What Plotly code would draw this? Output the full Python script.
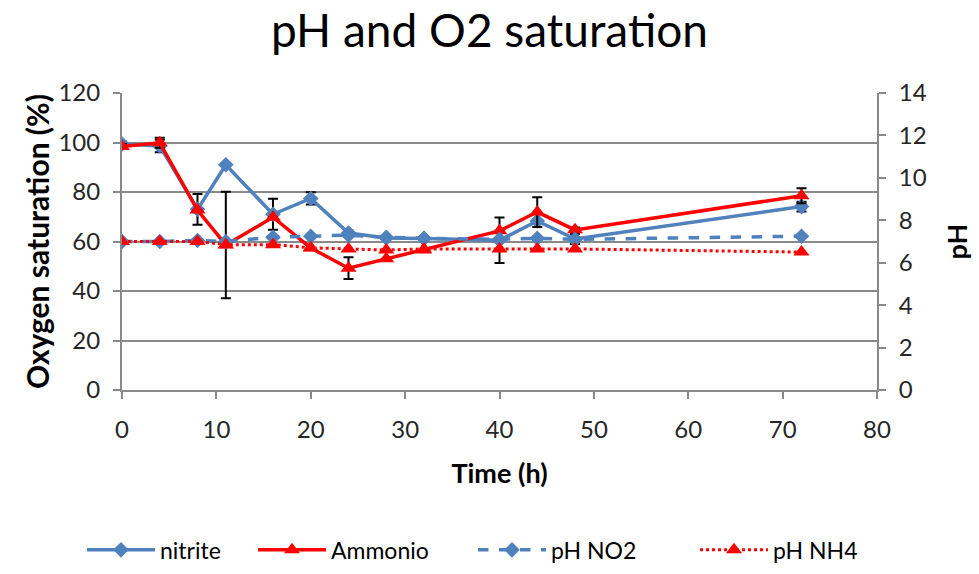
import plotly.graph_objects as go

time_h = [0, 4, 8, 11, 16, 20, 24, 28, 32, 40, 44, 48, 72]
nitrite = [99.4, 98.6, 73.0, 91.0, 71.0, 77.4, 63.4, 61.4, 61.2, 60.5, 68.3, 61.0, 74.1]
nitrite_err = [1.0, 2.5, 6.2, 0.0, 6.3, 2.5, 1.0, 0.0, 0.0, 9.2, 0.0, 2.0, 2.0]
ammonio = [98.4, 99.9, 72.7, 58.6, 69.8, 57.4, 49.2, 53.0, 56.6, 64.3, 71.9, 64.7, 78.5]
ammonio_err = [1.0, 2.0, 0.0, 21.5, 0.0, 0.0, 4.4, 0.0, 0.0, 0.0, 6.0, 1.0, 3.0]
ph_no2 = [7.0, 7.0, 7.05, 7.0, 7.2, 7.25, 7.3, 7.2, 7.15, 7.1, 7.15, 7.1, 7.25]
ph_nh4 = [7.0, 7.0, 7.0, 6.85, 6.85, 6.7, 6.65, 6.6, 6.65, 6.65, 6.65, 6.65, 6.5]

BLUE = "#4F81BD"
RED = "#FF0000"
GRID = "#898989"
FONT = "Lato"

fig = go.Figure()
fig.add_trace(go.Scatter(
    x=time_h, y=nitrite, name="nitrite", mode="lines+markers", legend="legend",
    line=dict(color=BLUE, width=3.5),
    marker=dict(symbol="diamond", size=12, color=BLUE),
    error_y=dict(type="data", array=nitrite_err, color="black", thickness=2, width=5),
))
fig.add_trace(go.Scatter(
    x=time_h, y=ammonio, name="Ammonio", mode="lines+markers", legend="legend2",
    line=dict(color=RED, width=3.5),
    marker=dict(symbol="triangle-up", size=14, color=RED),
    error_y=dict(type="data", array=ammonio_err, color="black", thickness=2, width=5),
))
fig.add_trace(go.Scatter(
    x=time_h, y=ph_no2, name="pH NO2", mode="lines+markers", yaxis="y2", legend="legend3",
    line=dict(color=BLUE, width=3.5, dash="dash"),
    marker=dict(symbol="diamond", size=12, color=BLUE),
))
fig.add_trace(go.Scatter(
    x=time_h, y=ph_nh4, name="pH NH4", mode="lines+markers", yaxis="y2", legend="legend4",
    line=dict(color=RED, width=3, dash="dot"),
    marker=dict(symbol="triangle-up", size=14, color=RED),
))

axis_common = dict(
    showline=True, linecolor=GRID, linewidth=2,
    ticks="outside", tickcolor=GRID, tickwidth=2, ticklen=7,
    tickfont=dict(family=FONT, size=24, color="#262626"),
    zeroline=False,
)

legend_common = dict(
    orientation="h", xref="container", xanchor="left",
    yref="container", y=0.042, yanchor="middle",
    font=dict(family=FONT, size=23, color="black"), itemwidth=68,
)

fig.update_layout(
    width=979, height=574,
    paper_bgcolor="white", plot_bgcolor="white",
    margin=dict(l=122, r=102, t=93, b=184),
    title=dict(text="pH and O2 saturation", x=0.5, xanchor="center",
               y=0.946, yanchor="middle",
               font=dict(family=FONT, size=46, color="black")),
    xaxis=dict(range=[0, 80], dtick=10, showgrid=False,
               title=dict(text="<b>Time (h)</b>", font=dict(family=FONT, size=27, color="black"), standoff=22),
               ticklabelstandoff=10, automargin=False, **axis_common),
    yaxis=dict(range=[0, 120], dtick=20, showgrid=True, gridcolor=GRID, gridwidth=2,
               title=dict(text="<b>Oxygen saturation (%)</b>", font=dict(family=FONT, size=30, color="black"), standoff=0),
               ticklabelstandoff=8, automargin=False, **axis_common),
    yaxis2=dict(range=[0, 14], dtick=2, overlaying="y", side="right", showgrid=False,
                title=dict(text="<b>pH</b>", font=dict(family=FONT, size=27, color="black"), standoff=22),
                ticklabelstandoff=8, automargin=False, **axis_common),
    legend=dict(x=82 / 979, **legend_common),
    legend2=dict(x=253 / 979, **legend_common),
    legend3=dict(x=473 / 979, **legend_common),
    legend4=dict(x=695 / 979, **legend_common),
    showlegend=True,
)

fig.write_html("out.html")
